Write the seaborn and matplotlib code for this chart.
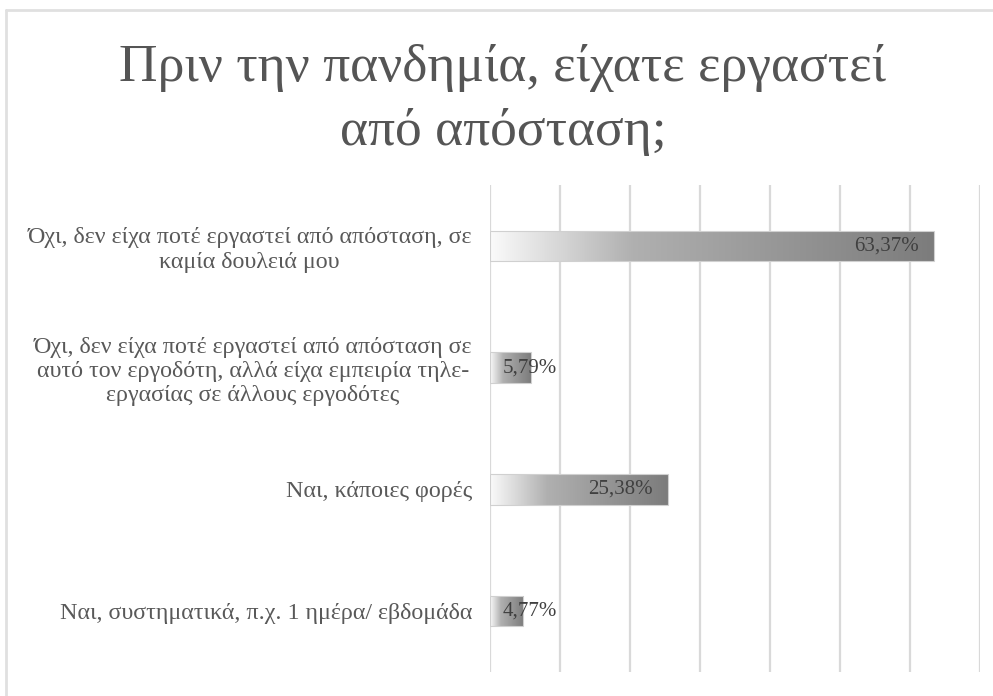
import numpy as np
import pandas as pd
import matplotlib
matplotlib.use("Agg")
import matplotlib.pyplot as plt
from matplotlib.colors import LinearSegmentedColormap
from matplotlib.lines import Line2D
import seaborn as sns

# Survey answers and their shares (%)
categories = [
    "Όχι, δεν είχα ποτέ εργαστεί από απόσταση, σε\nκαμία δουλειά μου",
    "Όχι, δεν είχα ποτέ εργαστεί από απόσταση σε\nαυτό τον εργοδότη, αλλά είχα εμπειρία τηλε-\nεργασίας σε άλλους εργοδότες",
    "Ναι, κάποιες φορές",
    "Ναι, συστηματικά, π.χ. 1 ημέρα/ εβδομάδα",
]
values = [63.37, 5.79, 25.38, 4.77]
value_labels = ["63,37%", "5,79%", "25,38%", "4,77%"]
title = "Πριν την πανδημία, είχατε εργαστεί\nαπό απόσταση;"

sns.set_theme(style="white")
plt.rcParams["font.family"] = ["Liberation Serif", "DejaVu Serif"]

W, H = 993, 696
fig = plt.figure(figsize=(W / 100, H / 100), dpi=100)
ax = fig.add_axes([490 / W, 1 - 672 / H, (980 - 490) / W, (672 - 185) / H])

df = pd.DataFrame({"category": categories, "value": values})
sns.barplot(data=df, x="value", y="category", orient="h", width=0.25,
            color="white", ax=ax, zorder=3)

# Horizontal gradient fill (light to dark) clipped to each bar
grad_cmap = LinearSegmentedColormap.from_list(
    "bar_grad",
    [(0.0, "#fafafa"), (0.15, "#d8d8d8"), (0.32, "#b0b0b0"), (1.0, "#7c7c7c")],
)
gradient = np.linspace(0, 1, 256).reshape(1, -1)
for patch in ax.patches:
    patch.set_facecolor("none")
    patch.set_edgecolor("#d0d0d0")
    patch.set_linewidth(0.8)
    x0, y0 = patch.get_x(), patch.get_y()
    w, h = patch.get_width(), patch.get_height()
    im = ax.imshow(gradient, cmap=grad_cmap, aspect="auto",
                   extent=[x0, x0 + w, y0 + h, y0], zorder=2,
                   interpolation="bilinear")
    im.set_clip_path(patch)

ax.set_xlim(0, 70)
ax.set_ylim(3.5, -0.5)
ax.set_xticks(np.arange(0, 71, 10))
ax.set_xticklabels([])
ax.grid(axis="x", color="#d9d9d9", linewidth=1.6, zorder=0)
ax.grid(axis="y", visible=False)
ax.set_axisbelow(True)
for s in ax.spines.values():
    s.set_visible(False)
ax.set_xlabel("")
ax.set_ylabel("")
ax.tick_params(axis="y", length=0, pad=13, labelsize=17.3, labelcolor="#595959")
ax.tick_params(axis="x", length=0)
for lbl in ax.get_yticklabels():
    lbl.set_multialignment("center")
    lbl.set_linespacing(1.2)

# Value labels: inside the end of long bars, just past the start of short ones
for i, (v, txt) in enumerate(zip(values, value_labels)):
    if v > 15:
        ax.annotate(txt, xy=(v, i), xytext=(-15, 0), textcoords="offset pixels",
                    ha="right", va="center", fontsize=15, color="#404040", zorder=5)
    else:
        ax.annotate(txt, xy=(0, i), xytext=(13, 0), textcoords="offset pixels",
                    ha="left", va="center", fontsize=15, color="#404040", zorder=5)

fig.text(503 / W, 1 - 44 / H, title, ha="center", va="top", fontsize=38.5,
         color="#555555", linespacing=1.42)

# Outer chart frame (left and top edges)
fig.add_artist(Line2D([6 / W, 6 / W], [0, 1 - 10 / H], transform=fig.transFigure,
                      color="#e0e0e0", linewidth=2))
fig.add_artist(Line2D([6 / W, 1], [1 - 10 / H, 1 - 10 / H], transform=fig.transFigure,
                      color="#e0e0e0", linewidth=2))

fig.savefig("out.png", dpi=100, facecolor="white")
